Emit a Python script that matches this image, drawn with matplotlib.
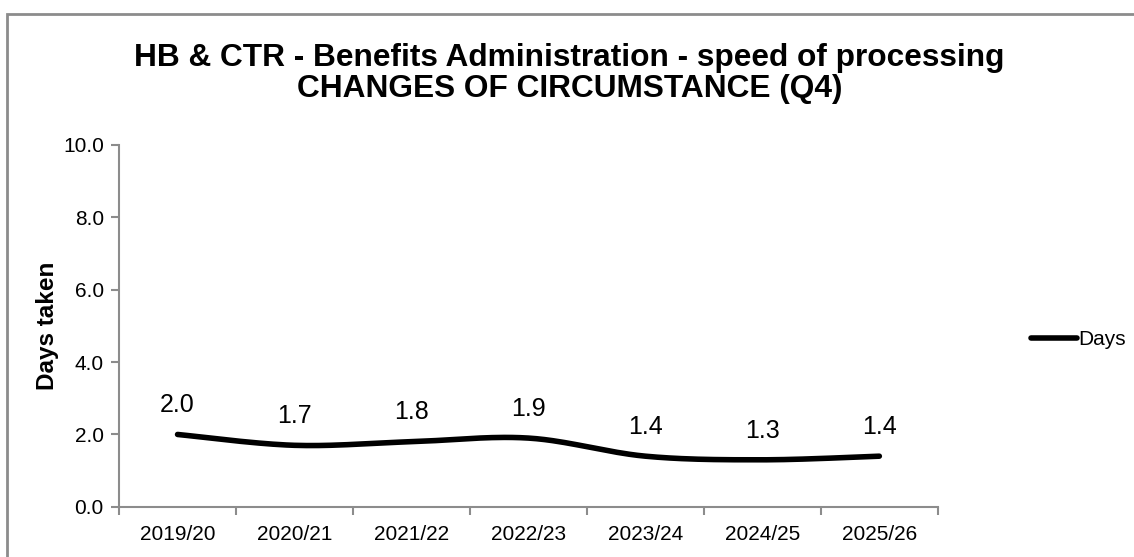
import numpy as np
import matplotlib.pyplot as plt
from matplotlib.patches import Rectangle

plt.rcParams['font.family'] = ['Liberation Sans', 'DejaVu Sans']

years = ["2019/20", "2020/21", "2021/22", "2022/23", "2023/24", "2024/25", "2025/26"]
days = [2.0, 1.7, 1.8, 1.9, 1.4, 1.3, 1.4]


def smooth(xs, ys, n=30):
    # catmull-rom curve through the points, like excel's smoothed line
    xs = np.asarray(xs, float)
    ys = np.asarray(ys, float)
    px = np.concatenate([[xs[0]], xs, [xs[-1]]])
    py = np.concatenate([[ys[0]], ys, [ys[-1]]])
    outx, outy = [], []
    t = np.linspace(0, 1, n)
    for i in range(1, len(px) - 2):
        for p, out in ((px, outx), (py, outy)):
            p0, p1, p2, p3 = p[i - 1], p[i], p[i + 1], p[i + 2]
            m1 = (p2 - p0) / 2
            m2 = (p3 - p1) / 2
            h00 = 2 * t**3 - 3 * t**2 + 1
            h10 = t**3 - 2 * t**2 + t
            h01 = -2 * t**3 + 3 * t**2
            h11 = t**3 - t**2
            out.extend(h00 * p1 + h10 * m1 + h01 * p2 + h11 * m2)
    return np.array(outx), np.array(outy)


fig = plt.figure(figsize=(11.34, 5.57), dpi=100)
fig.patches.append(Rectangle((7 / 1134, -0.1), 1.2, 1 - 14 / 557 + 0.1,
                             transform=fig.transFigure, fill=False,
                             edgecolor='#8c8c8c', linewidth=2))

ax = fig.add_axes([0.105, 0.09, 0.722, 0.65])
x = np.arange(len(years))
sx, sy = smooth(x, days)
ax.plot(sx, sy, color='black', linewidth=4, solid_capstyle='round', label='Days')

for xi, v in zip(x, days):
    ax.annotate(f"{v:.1f}", (xi, v), xytext=(0, 16), textcoords='offset points',
                ha='center', va='baseline', fontsize=18)

ax.set_xlim(-0.5, len(years) - 0.5)
ax.set_ylim(0, 10)
ax.set_yticks(np.arange(0, 10.1, 2))
ax.set_yticklabels([f"{v:.1f}" for v in np.arange(0, 10.1, 2)], fontsize=15)
ax.set_xticks(x)
ax.set_xticklabels(years, fontsize=15)
ax.set_xticks(np.arange(-0.5, len(years)), minor=True)
ax.tick_params(axis='x', which='major', length=0, pad=13)
ax.tick_params(axis='x', which='minor', length=6, color='#8c8c8c', width=1.5)
ax.tick_params(axis='y', length=6, color='#8c8c8c', width=1.5, pad=5)
for s in ['top', 'right']:
    ax.spines[s].set_visible(False)
for s in ['left', 'bottom']:
    ax.spines[s].set_color('#8c8c8c')
    ax.spines[s].set_linewidth(1.5)

ax.set_ylabel("Days taken", fontsize=17.5, fontweight='bold', labelpad=3)
fig.text(0.502, 0.868, "HB & CTR - Benefits Administration - speed of processing\nCHANGES OF CIRCUMSTANCE (Q4)",
         ha='center', va='center', fontsize=22.8, fontweight='bold', linespacing=1.05)

fig.legend(loc='center left', bbox_to_anchor=(0.893, 0.39), frameon=False,
           fontsize=15, handlelength=2.2, handletextpad=0.05)

fig.savefig("out.png", dpi=100)
